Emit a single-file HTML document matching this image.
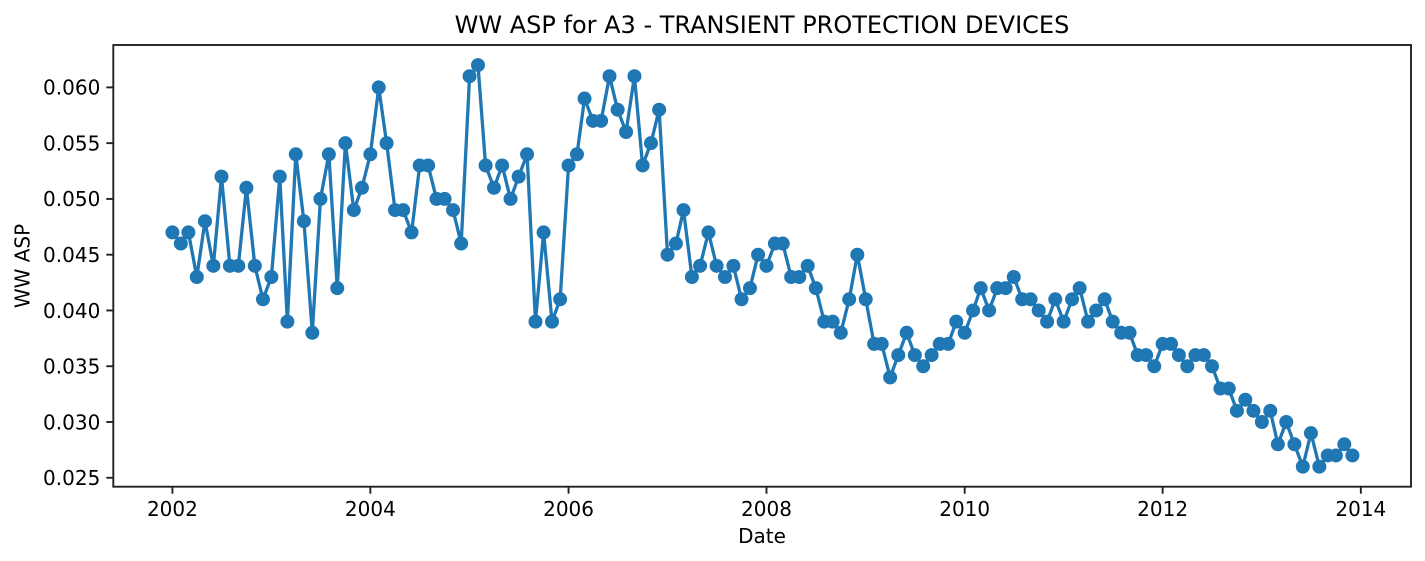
<!DOCTYPE html>
<html lang="en">
<head>
<meta charset="utf-8">
<title>WW ASP for A3 - TRANSIENT PROTECTION DEVICES</title>
<style>
html,body{margin:0;padding:0;background:#fff;}
body{width:1425px;height:561px;overflow:hidden;}
svg{display:block;}
text{font-family:"DejaVu Sans","Liberation Sans",sans-serif;fill:#000;}
</style>
</head>
<body>
<svg id="chart" xmlns="http://www.w3.org/2000/svg" width="1425" height="561" viewBox="0 0 1425 561">
  <rect x="0" y="0" width="1425" height="561" fill="#ffffff"/>
  <g id="plot"></g>
  <rect x="113.3" y="45" width="1297.7" height="441.7" fill="none" stroke="#222" stroke-width="1.9"/>
  <g id="ticks"></g>
  <text x="762" y="33" font-size="24" text-anchor="middle">WW ASP for A3 - TRANSIENT PROTECTION DEVICES</text>
  <text x="762" y="543" text-anchor="middle" style="font-size:20px">Date</text>
  <text transform="translate(29.5,266) rotate(-90)" text-anchor="middle" style="font-size:20px">WW ASP</text>
</svg>
<script>
const dates = [
"2002-01","2002-02","2002-03","2002-04","2002-05","2002-06","2002-07","2002-08","2002-09","2002-10","2002-11","2002-12",
"2003-01","2003-02","2003-03","2003-04","2003-05","2003-06","2003-07","2003-08","2003-09","2003-10","2003-11","2003-12",
"2004-01","2004-02","2004-03","2004-04","2004-05","2004-06","2004-07","2004-08","2004-09","2004-10","2004-11","2004-12",
"2005-01","2005-02","2005-03","2005-04","2005-05","2005-06","2005-07","2005-08","2005-09","2005-10","2005-11","2005-12",
"2006-01","2006-02","2006-03","2006-04","2006-05","2006-06","2006-07","2006-08","2006-09","2006-10","2006-11","2006-12",
"2007-01","2007-02","2007-03","2007-04","2007-05","2007-06","2007-07","2007-08","2007-09","2007-10","2007-11","2007-12",
"2008-01","2008-02","2008-03","2008-04","2008-05","2008-06","2008-07","2008-08","2008-09","2008-10","2008-11","2008-12",
"2009-01","2009-02","2009-03","2009-04","2009-05","2009-06","2009-07","2009-08","2009-09","2009-10","2009-11","2009-12",
"2010-01","2010-02","2010-03","2010-04","2010-05","2010-06","2010-07","2010-08","2010-09","2010-10","2010-11","2010-12",
"2011-01","2011-02","2011-03","2011-04","2011-05","2011-06","2011-07","2011-08","2011-09","2011-10","2011-11","2011-12",
"2012-01","2012-02","2012-03","2012-04","2012-05","2012-06","2012-07","2012-08","2012-09","2012-10","2012-11","2012-12",
"2013-01","2013-02","2013-03","2013-04","2013-05","2013-06","2013-07","2013-08","2013-09","2013-10","2013-11","2013-12"
];
const wwAsp = [
0.047,0.046,0.047,0.043,0.048,0.044,0.052,0.044,0.044,0.051,0.044,0.041,
0.043,0.052,0.039,0.054,0.048,0.038,0.050,0.054,0.042,0.055,0.049,0.051,
0.054,0.060,0.055,0.049,0.049,0.047,0.053,0.053,0.050,0.050,0.049,0.046,
0.061,0.062,0.053,0.051,0.053,0.050,0.052,0.054,0.039,0.047,0.039,0.041,
0.053,0.054,0.059,0.057,0.057,0.061,0.058,0.056,0.061,0.053,0.055,0.058,
0.045,0.046,0.049,0.043,0.044,0.047,0.044,0.043,0.044,0.041,0.042,0.045,
0.044,0.046,0.046,0.043,0.043,0.044,0.042,0.039,0.039,0.038,0.041,0.045,
0.041,0.037,0.037,0.034,0.036,0.038,0.036,0.035,0.036,0.037,0.037,0.039,
0.038,0.040,0.042,0.040,0.042,0.042,0.043,0.041,0.041,0.040,0.039,0.041,
0.039,0.041,0.042,0.039,0.040,0.041,0.039,0.038,0.038,0.036,0.036,0.035,
0.037,0.037,0.036,0.035,0.036,0.036,0.035,0.033,0.033,0.031,0.032,0.031,
0.030,0.031,0.028,0.030,0.028,0.026,0.029,0.026,0.027,0.027,0.028,0.027
];
const xTickLabels = ["2002","2004","2006","2008","2010","2012","2014"];
const yTickLabels = ["0.025","0.030","0.035","0.040","0.045","0.050","0.055","0.060"];

const SVG_NS = "http://www.w3.org/2000/svg";
const box = { left: 113.3, right: 1411, top: 45, bottom: 486.7 };
const xStart = Date.UTC(2001, 4, 28);
const xEnd = Date.UTC(2014, 6, 5);
const yLow = 0.0242;
const yHigh = 0.0638;

function toTime(label) {
  const parts = label.split("-");
  return Date.UTC(Number(parts[0]), parts[1] ? Number(parts[1]) - 1 : 0, 1);
}
function xScale(label) {
  return box.left + (toTime(label) - xStart) / (xEnd - xStart) * (box.right - box.left);
}
function yScale(value) {
  return box.bottom - (value - yLow) / (yHigh - yLow) * (box.bottom - box.top);
}
function make(tag, attrs) {
  const el = document.createElementNS(SVG_NS, tag);
  Object.keys(attrs).forEach(function (k) { el.setAttribute(k, attrs[k]); });
  return el;
}

const plot = document.getElementById("plot");
const ticks = document.getElementById("ticks");

const seriesLine = make("polyline", {
  points: dates.map(function (d, i) { return xScale(d).toFixed(2) + "," + yScale(wwAsp[i]).toFixed(2); }).join(" "),
  fill: "none", stroke: "#1f77b4", "stroke-width": 3.3, "stroke-linejoin": "round", "stroke-linecap": "square"
});


plot.appendChild(seriesLine);

dates.forEach(function (d, i) {
  const point = make("circle", {
    cx: xScale(d).toFixed(2), cy: yScale(wwAsp[i]).toFixed(2), r: 6,
    fill: "#1f77b4", stroke: "#1f77b4", "stroke-width": 2
  });
  
  
  plot.appendChild(point);
});

xTickLabels.forEach(function (label) {
  const x = xScale(label);
  const mark = make("line", { x1: x, x2: x, y1: box.bottom, y2: box.bottom + 7, stroke: "#222", "stroke-width": 1.9 });
  
  
  ticks.appendChild(mark);
  const text = make("text", { x: x, y: box.bottom + 29.3, "text-anchor": "middle" });
  
  
  text.style.fontSize = "20px";
  text.textContent = label;
  ticks.appendChild(text);
});

yTickLabels.forEach(function (label) {
  const y = yScale(Number(label));
  const mark = make("line", { x1: box.left - 7, x2: box.left, y1: y, y2: y, stroke: "#222", "stroke-width": 1.9 });
  
  
  ticks.appendChild(mark);
  const text = make("text", { x: box.left - 13, y: y + 7.3, "text-anchor": "end" });
  
  
  text.style.fontSize = "20px";
  text.textContent = label;
  ticks.appendChild(text);
});
</script>
</body>
</html>
